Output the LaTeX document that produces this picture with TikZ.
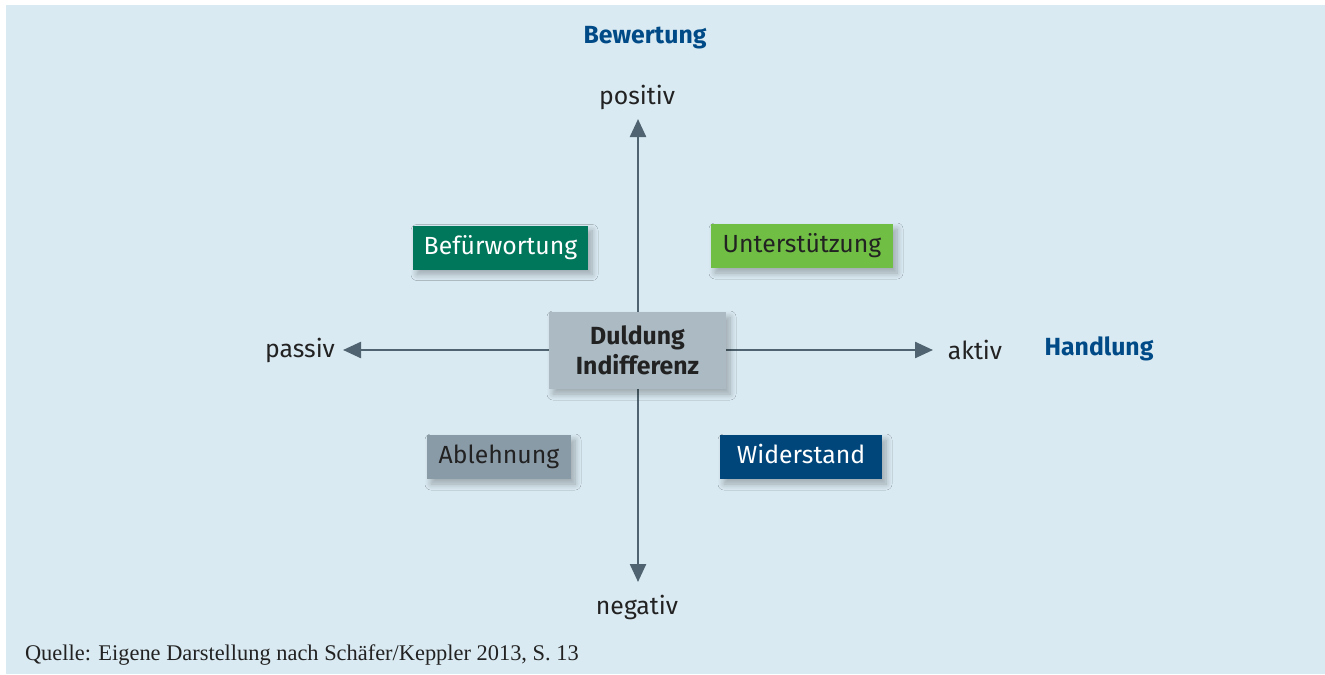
\documentclass[tikz,border=0pt]{standalone}
\usepackage{fontspec}
\setmainfont{Fira Sans}
\newfontfamily\srcfont{Liberation Serif}
\usetikzlibrary{arrows.meta, positioning, shadows.blur}
\definecolor{bgBlue}{HTML}{DAEAF2}
\definecolor{axisGrey}{HTML}{4F6470}
\definecolor{headBlue}{HTML}{004B87}
\definecolor{befGreen}{HTML}{00775B}
\definecolor{untGreen}{HTML}{70BE44}
\definecolor{ablGrey}{HTML}{8A9BA8}
\definecolor{widBlue}{HTML}{00467A}
\definecolor{dulGrey}{HTML}{ABBAC3}
\definecolor{txtDark}{HTML}{222222}

\begin{document}
\begin{tikzpicture}[x=0.5pt, y=-0.5pt,
      >={Triangle[length=9pt, width=8pt]},
      axis/.style={draw=axisGrey, line width=1.2pt, ->},
      box/.style={rectangle, inner sep=0pt,
                  font=\fontsize{12.4}{14}\selectfont,
                  blur shadow={shadow xshift=2pt, shadow yshift=-2.5pt,
                               shadow blur radius=3pt,
                               shadow blur steps=10, shadow opacity=28}},
      quad/.style={box, text height=9pt, text depth=2.5pt,
                   minimum height=22pt},
      lbl/.style={font=\fontsize{12.4}{14}\selectfont, text=txtDark},
      head/.style={font=\fontsize{12.4}{14}\selectfont\bfseries, text=headBlue}]
    % background
    \fill[bgBlue] (6,5) rectangle (1325,674);
    \useasboundingbox (0,0) rectangle (1325,674);

    % axis end points
    \coordinate (top) at (638,119);
    \coordinate (bot) at (638,582);
    \coordinate (lft) at (343,350);
    \coordinate (rgt) at (933,350);
    \coordinate (mid) at (638,350);

    \draw[axis] (mid) -- (top);
    \draw[axis] (mid) -- (bot);
    \draw[axis] (mid) -- (lft);
    \draw[axis] (mid) -- (rgt);

    % quadrants
    \node[quad, fill=befGreen, text=white, minimum width=87.5pt]
      (bef) at (500.5,247.5) {Befürwortung};
    \node[quad, fill=untGreen, text=txtDark, minimum width=91pt]
      (unt) at (802,246) {Unterstützung};
    \node[quad, fill=ablGrey, text=txtDark, minimum width=72pt]
      (abl) at (499,457) {Ablehnung};
    \node[quad, fill=widBlue, text=white, minimum width=81pt]
      (wid) at (801,457) {Widerstand};
    \node[box, fill=dulGrey, text=txtDark, align=center,
          font=\fontsize{12.4}{15}\selectfont\bfseries,
          minimum width=88.5pt, minimum height=38.5pt]
      (dul) at (637.5,350.5) {Duldung\\Indifferenz};

    % axis labels
    \node[lbl] (pos) at (637,97) {positiv};
    \node[lbl] (neg) at (637,607) {negativ};
    \node[lbl] (pas) at (300,350) {passiv};
    \node[lbl] (akt) at (975,350) {aktiv};
    \node[head] (bew) at (645,38) {Bewertung};
    \node[head] (hdl) at (1099,349) {Handlung};

    % source
    \node[anchor=west, font=\srcfont\fontsize{11.2}{13}\selectfont, text=txtDark]
      (src) at (18,655) {Quelle: Eigene Darstellung nach Schäfer/Keppler 2013, S.~13};
  \end{tikzpicture}
\end{document}
